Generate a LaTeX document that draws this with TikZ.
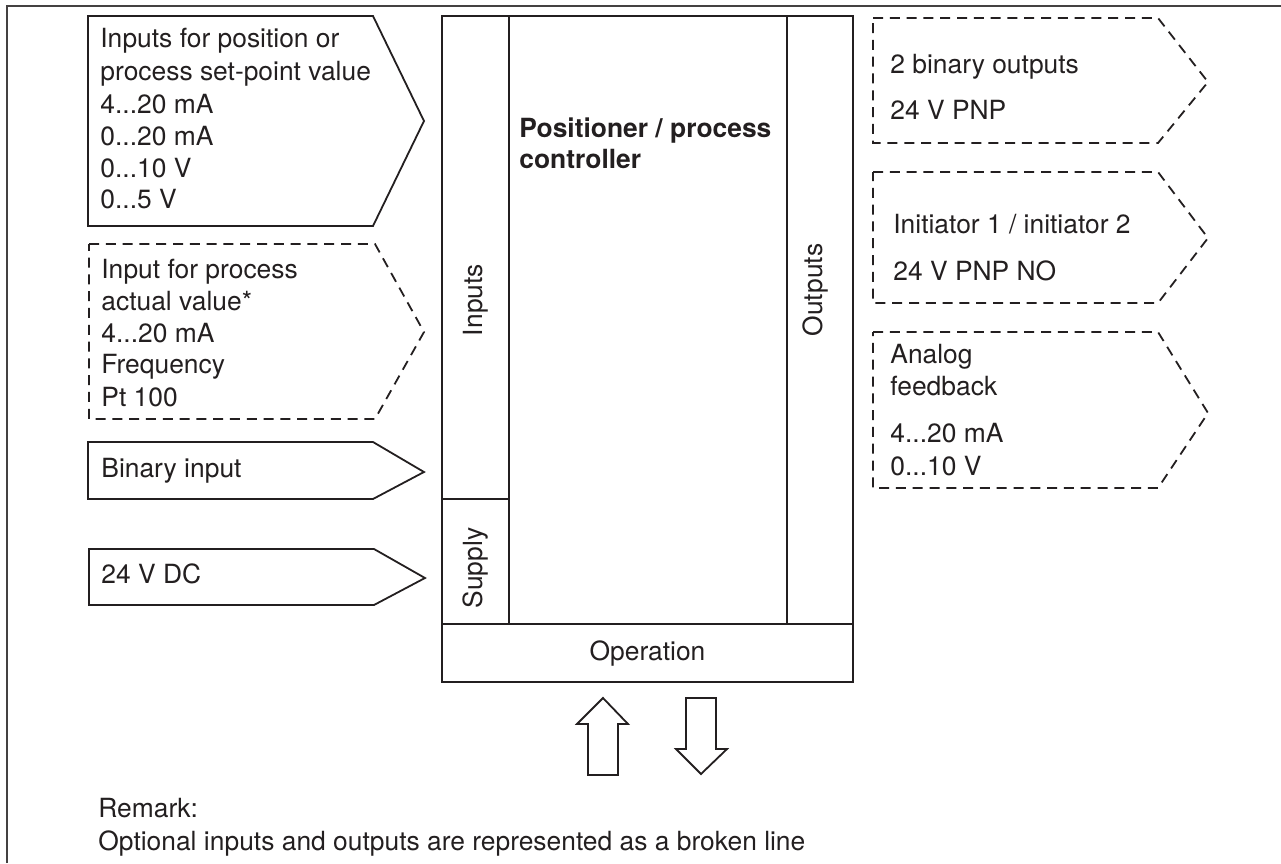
\documentclass[tikz,border=0pt]{standalone}
\usepackage{fontspec}
\setmainfont{TeX Gyre Heros}
\definecolor{ink}{HTML}{231F20}
\newcommand{\fsz}{\fontsize{13.2pt}{16pt}\selectfont}
\begin{document}
\begin{tikzpicture}[x=0.5pt,y=-0.5pt,
  ln/.style={line width=0.9pt, draw=ink, line join=miter},
  opt/.style={line width=0.9pt, draw=ink, dash pattern=on 5pt off 3.4pt},
  frm/.style={line width=0.7pt, draw=ink!85},
  txt/.style={anchor=base west, inner sep=0pt, font=\fsz, text=ink},
  btxt/.style={txt, font=\fsz\bfseries},
  vtxt/.style={anchor=center, inner sep=0pt, font=\fsz, text=ink, rotate=90}]
\useasboundingbox (0,0) rectangle (1281,863);
% frame
\draw[frm] (7,863) -- (7,6) -- (1281,6);

% main block
\coordinate (mNW) at (442,16);
\coordinate (mSE) at (853,682);
\draw[ln] (mNW) rectangle (mSE);
\draw[ln] (509,16) -- (509,624);
\draw[ln] (787,16) -- (787,624);
\draw[ln] (442,499) -- (509,499);
\draw[ln] (442,624) -- (853,624);
\node[vtxt] (inputs) at (476,300) {Inputs};
\node[vtxt] (outputs) at (816,290) {Outputs};
\node[vtxt] (supply) at (476,568) {Supply};
\node[txt, anchor=base] (operation) at (647.5,660) {Operation};
\node[btxt] (pc1) at (519,137) {Positioner / process};
\node[btxt] (pc2) at (519,168) {controller};

% left input boxes
\draw[ln] (88,16) -- (373,16) -- (424,121) -- (373,226) -- (88,226) -- cycle;
\node[txt] (a1) at (100,47) {Inputs for position or};
\node[txt] (a2) at (100,80) {process set-point value};
\node[txt] (a3) at (100,113) {4...20 mA};
\node[txt] (a4) at (100,145) {0...20 mA};
\node[txt] (a5) at (100,177) {0...10 V};
\node[txt] (a6) at (100,208) {0...5 V};

\draw[opt] (89,244) -- (375,244) -- (424,332) -- (375,419) -- (89,419) -- cycle;
\node[txt] (b1) at (101,278) {Input for process};
\node[txt] (b2) at (101,310) {actual value*};
\node[txt] (b3) at (101,342) {4...20 mA};
\node[txt] (b4) at (101,373) {Frequency};
\node[txt] (b5) at (101,406) {Pt 100};

\draw[ln] (88,442) -- (373,442) -- (424,472) -- (373,499) -- (88,499) -- cycle;
\node[txt] (c1) at (101,477) {Binary input};

\draw[ln] (89,549) -- (374,549) -- (425,578) -- (374,605) -- (89,605) -- cycle;
\node[txt] (d1) at (101,583) {24 V DC};

% right output boxes
\draw[opt] (873,18) -- (1158,18) -- (1208,82) -- (1158,143) -- (873,143) -- cycle;
\node[txt] (e1) at (890,73) {2 binary outputs};
\node[txt] (e2) at (890,119) {24 V PNP};

\draw[opt] (873,172) -- (1158,172) -- (1208,238) -- (1158,303) -- (873,303) -- cycle;
\node[txt] (f1) at (893,233) {Initiator 1 / initiator 2};
\node[txt] (f2) at (893,280) {24 V PNP NO};

\draw[opt] (873,332) -- (1158,332) -- (1208,413) -- (1158,488) -- (873,488) -- cycle;
\node[txt] (g1) at (890,363) {Analog};
\node[txt] (g2) at (890,395) {feedback};
\node[txt] (g3) at (890,442) {4...20 mA};
\node[txt] (g4) at (890,475) {0...10 V};

% operation arrows
\draw[ln] (603,698) -- (628,724) -- (618,724) -- (618,775) -- (588,775) -- (588,724) -- (577,724) -- cycle;
\draw[ln] (686,698) -- (716,698) -- (716,749) -- (727,749) -- (701,774) -- (676,749) -- (686,749) -- cycle;

% remark
\node[txt] (r1) at (98,817) {Remark:};
\node[txt] (r2) at (98,850) {Optional inputs and outputs are represented as a broken line};
\end{tikzpicture}
\end{document}
